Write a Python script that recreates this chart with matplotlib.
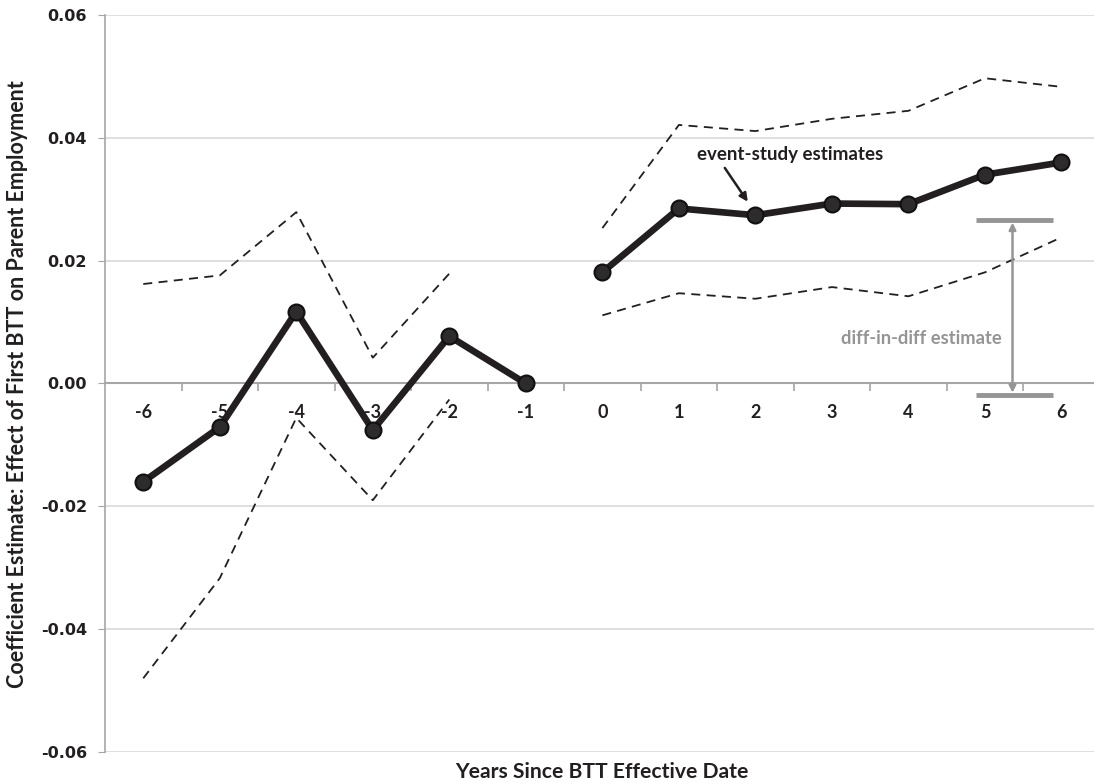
import matplotlib
matplotlib.use('Agg')
import matplotlib.pyplot as plt
import numpy as np

# ---- data ----
years_pre = [-6, -5, -4, -3, -2, -1]
est_pre = [-0.0160, -0.0071, 0.0117, -0.0076, 0.0077, 0.0000]
years_pre_ci = [-6, -5, -4, -3, -2]
upper_pre = [0.0162, 0.0176, 0.0279, 0.0042, 0.0179]
lower_pre = [-0.0480, -0.0317, -0.0056, -0.0190, -0.0026]

years_post = [0, 1, 2, 3, 4, 5, 6]
est_post = [0.0181, 0.0285, 0.0274, 0.0293, 0.0292, 0.0340, 0.0360]
upper_post = [0.0253, 0.0421, 0.0411, 0.0431, 0.0444, 0.0497, 0.0483]
lower_post = [0.0111, 0.0147, 0.0138, 0.0157, 0.0142, 0.0181, 0.0238]

did_top = 0.0266
did_bottom = -0.0019

xtick_labels = ['-6', '-5', '-4', '-3', '-2', '-1', '0', '1', '2', '3', '4', '5', '6']
yticks = [-0.06, -0.04, -0.02, 0.00, 0.02, 0.04, 0.06]

# ---- style ----
DARK = '#231f20'
GRAY = '#959595'
AXGRAY = '#a6a6a6'
GRID = '#d9d9d9'

fig = plt.figure(figsize=(10.94, 7.84), dpi=100)
ax = fig.add_axes([105/1094, 1 - 752/784, 1 - 105/1094, (752 - 15)/784])

ax.set_xlim(-6.5, 6.425)
ax.set_ylim(-0.06, 0.06)

# grid
ax.set_yticks(yticks)
ax.yaxis.grid(True, color=GRID, linewidth=1.2)
ax.set_axisbelow(True)

# spines
for s in ['top', 'right']:
    ax.spines[s].set_visible(False)
ax.spines['bottom'].set_position(('data', 0))
ax.spines['bottom'].set_color(AXGRAY)
ax.spines['bottom'].set_linewidth(1.5)
ax.spines['bottom'].set_zorder(1)
ax.spines['left'].set_color(AXGRAY)
ax.spines['left'].set_linewidth(1.2)

# y ticks
ax.set_yticklabels(['%.2f' % v for v in yticks], fontsize=11.5, fontweight='bold',
                   family='DejaVu Sans', color=DARK)
ax.tick_params(axis='y', direction='out', length=5, color=AXGRAY, pad=8)

# x ticks: labels at categories, tick marks at boundaries
yr_all = years_pre + years_post
ax.set_xticks(yr_all)
ax.set_xticklabels(xtick_labels, fontsize=13, fontweight='bold', family='Lato', color=DARK)
ax.tick_params(axis='x', which='major', length=0, pad=15)
ax.set_xticks([y + 0.5 for y in yr_all[:-1]], minor=True)
ax.tick_params(axis='x', which='minor', direction='out', length=6, color=AXGRAY, width=1.2)

# CI lines
dash = dict(color=DARK, linewidth=1.3, linestyle=(0, (5, 3.5)))
ax.plot(years_pre_ci, upper_pre, **dash, zorder=3)
ax.plot(years_pre_ci, lower_pre, **dash, zorder=3)
ax.plot(years_post, upper_post, **dash, zorder=3)
ax.plot(years_post, lower_post, **dash, zorder=3)

# estimates
mk = dict(color=DARK, linewidth=4.8, marker='o', markersize=11.5,
          markerfacecolor='#2e2b2c', markeredgecolor='#111111', markeredgewidth=1.5)
ax.plot(years_pre, est_pre, **mk, zorder=4)
ax.plot(years_post, est_post, **mk, zorder=4)

# diff-in-diff bracket
bx0, bx1, bxa = 4.885, 5.89, 5.36
ax.plot([bx0, bx1], [did_top, did_top], color=GRAY, linewidth=3.5, solid_capstyle='butt', zorder=3)
ax.plot([bx0, bx1], [did_bottom, did_bottom], color=GRAY, linewidth=3.5, solid_capstyle='butt', zorder=3)
ax.annotate('', xy=(bxa, did_top - 0.0004), xytext=(bxa, did_bottom + 0.0004),
            arrowprops=dict(arrowstyle='<|-|>', color=GRAY, lw=1.8,
                            mutation_scale=10, shrinkA=0, shrinkB=0), zorder=3)
ax.text(4.17, 0.0073, 'diff-in-diff estimate', color=GRAY, fontsize=13.2,
        fontweight='bold', family='Lato', ha='center', va='center')

# event-study annotation
ax.text(2.45, 0.0373, 'event-study estimates', fontsize=13.5, fontweight='bold',
        family='Lato', color=DARK, ha='center', va='center')
ax.annotate('', xy=(1.90, 0.0296), xytext=(1.60, 0.0351),
            arrowprops=dict(arrowstyle='-|>', color=DARK, lw=1.8, mutation_scale=12,
                            shrinkA=0, shrinkB=0))

# axis labels
fig.text(602/1094, 1 - 772/784, 'Years Since BTT Effective Date', fontsize=15.2,
         fontweight='bold', family='Lato', color=DARK, ha='center', va='center')
fig.text(18/1094, 1 - 384/784, 'Coefficient Estimate: Effect of First BTT on Parent Employment',
         fontsize=15.5, fontweight='bold', family='Lato', color=DARK,
         ha='center', va='center', rotation=90)

fig.savefig('out.png', dpi=100)
